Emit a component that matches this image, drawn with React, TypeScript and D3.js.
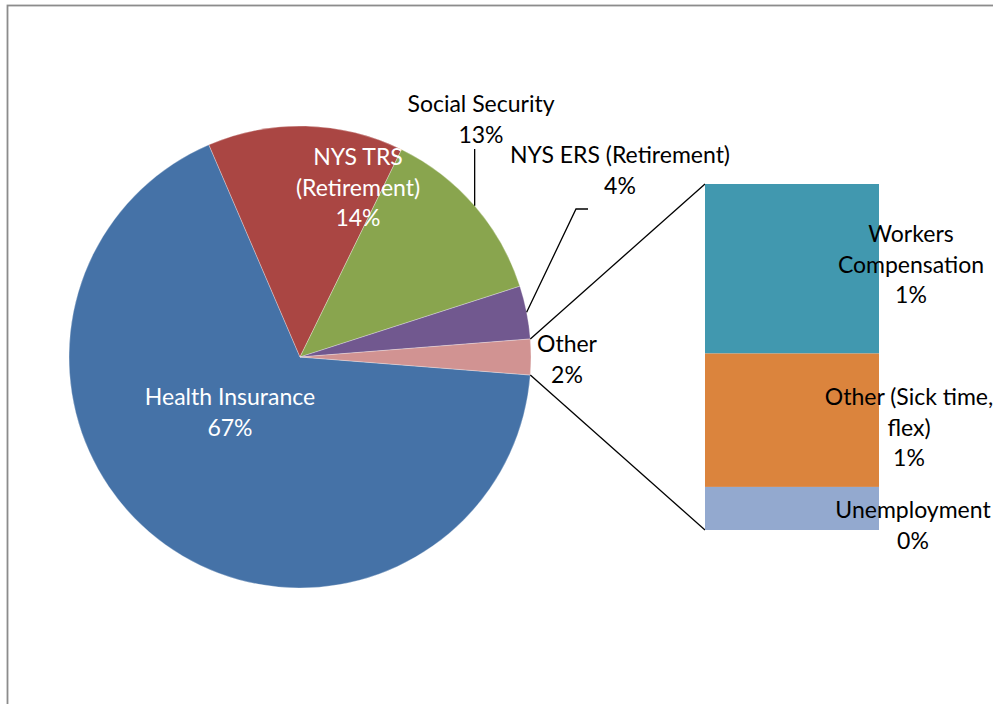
import * as d3 from "d3";

// pie slices, in drawing order starting after the "Other" wedge
const pieNames = ["Health Insurance", "NYS TRS (Retirement)", "Social Security", "NYS ERS (Retirement)"];
const pieValues = [67.3, 13.7, 12.8, 3.71];
const pieLines = [["Health Insurance"], ["NYS TRS", "(Retirement)"], ["Social Security"], ["NYS ERS (Retirement)"]];
const pieColors = ["#4572A7", "#AA4643", "#89A54E", "#71588F"];

// the "Other" wedge is split into the stacked bar on the right
const otherName = "Other";
const otherColor = "#D19392";
const barNames = ["Workers Compensation", "Other (Sick time, flex)", "Unemployment"];
const barValues = [1.22, 0.96, 0.31];
const barLines = [["Workers", "Compensation"], ["Other (Sick time,", "flex)"], ["Unemployment"]];
const barColors = ["#4198AF", "#DB843D", "#93A9CF"];

const W = 993;
const H = 704;
const cx = 300;
const cy = 357;
const R = 231;
const bar = { x: 705, y: 184, w: 174, h: 346 };
const lineH = 30.5;
const font = "Lato, 'Open Sans', sans-serif";
const fs = 23;

// label anchors: [centre x, first baseline y]
const pieLabelPos: [number, number][] = [[230, 405], [358, 165], [481, 112], [620, 163]];
const otherLabelPos: [number, number] = [567, 352];
const barLabelPos: [number, number][] = [[911, 242], [909, 405], [913, 518]];

const pct = (v: number, total: number) => `${Math.round((v / total) * 100)}%`;

function Label({ x, y, lines, fill }: { x: number; y: number; lines: string[]; fill: string }) {
  return (
    <text x={x} y={y} textAnchor="middle" fill={fill} fontFamily={font} fontSize={fs}>
      {lines.map((l, i) => (
        <tspan key={i} x={x} y={y + i * lineH}>
          {l}
        </tspan>
      ))}
    </text>
  );
}

export default function App() {
  const otherValue = d3.sum(barValues);
  const values = [...pieValues, otherValue];
  const total = d3.sum(values);
  const otherAngle = (otherValue / total) * Math.PI * 2;
  const a0 = Math.PI / 2 + otherAngle / 2;

  const arcs = d3
    .pie<number>()
    .sort(null)
    .startAngle(a0)
    .endAngle(a0 + Math.PI * 2)(values);
  const arc = d3.arc<d3.PieArcDatum<number>>().innerRadius(0).outerRadius(R);

  const onArc = (a: number) => [cx + R * Math.sin(a), cy - R * Math.cos(a)];
  const mid = (d: d3.PieArcDatum<number>) => (d.startAngle + d.endAngle) / 2;

  // stacked bar, first segment on top
  const y = d3.scaleLinear().domain([0, otherValue]).range([bar.y, bar.y + bar.h]);
  const stack = d3.cumsum(barValues);

  const otherArc = arcs[4];
  const [ox1, oy1] = onArc(otherArc.startAngle);
  const [ox2, oy2] = onArc(otherArc.endAngle);

  // leader lines for the outside labels
  const [sx, sy] = onArc(mid(arcs[2]));
  const [ex, ey] = onArc(mid(arcs[3]));

  return (
    <svg width={W} height={H} style={{ position: "absolute", left: 0, top: 0, background: "#fff" }}>
      <rect x={7.5} y={5.5} width={1000} height={720} fill="#fff" stroke="#8c8c8c" strokeWidth={1.8} />

      <g transform={`translate(${cx},${cy})`}>
        {arcs.map((d, i) => (
          <path key={i} d={arc(d) ?? ""} fill={i < 4 ? pieColors[i] : otherColor} stroke="#fff" strokeWidth={0.5} strokeOpacity={0.6} />
        ))}
      </g>

      {/* connectors from the Other wedge to the bar */}
      <line x1={ox1} y1={oy1} x2={bar.x} y2={bar.y} stroke="#000" strokeWidth={1.3} />
      <line x1={ox2} y1={oy2} x2={bar.x} y2={bar.y + bar.h} stroke="#000" strokeWidth={1.3} />

      {barValues.map((v, i) => (
        <rect
          key={barNames[i]}
          x={bar.x}
          y={y(stack[i] - v)}
          width={bar.w}
          height={y(stack[i]) - y(stack[i] - v)}
          fill={barColors[i]}
        />
      ))}

      <line x1={sx} y1={sy} x2={sx} y2={149} stroke="#000" strokeWidth={1.3} />
      <polyline points={`${ex},${ey} 576,209 588,209`} fill="none" stroke="#000" strokeWidth={1.3} />

      {pieNames.map((n, i) => (
        <Label
          key={n}
          x={pieLabelPos[i][0]}
          y={pieLabelPos[i][1]}
          lines={[...pieLines[i], pct(pieValues[i], total)]}
          fill={i < 2 ? "#fff" : "#000"}
        />
      ))}
      <Label x={otherLabelPos[0]} y={otherLabelPos[1]} lines={[otherName, pct(otherValue, total)]} fill="#000" />
      {barNames.map((n, i) => (
        <Label
          key={n}
          x={barLabelPos[i][0]}
          y={barLabelPos[i][1]}
          lines={[...barLines[i], pct(barValues[i], total)]}
          fill="#000"
        />
      ))}
    </svg>
  );
}
